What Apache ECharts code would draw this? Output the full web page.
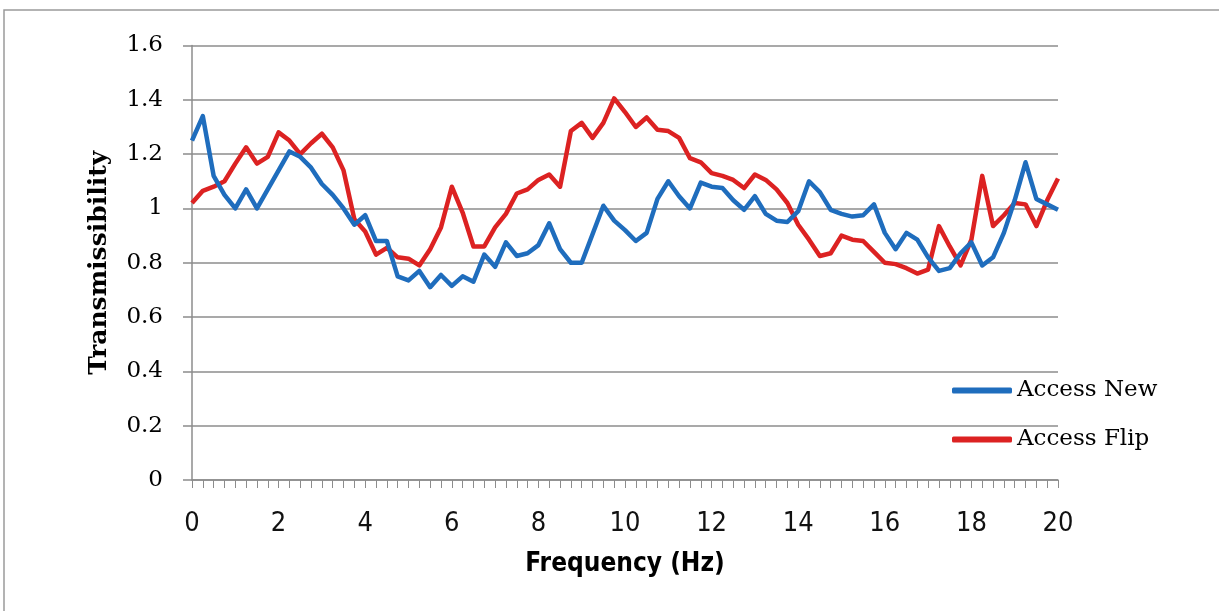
<!DOCTYPE html>
<html>
<head>
<meta charset="utf-8">
<title>Transmissibility</title>
<script src="https://cdn.jsdelivr.net/npm/echarts@6/dist/echarts.min.js"></script>
<style>
  html, body { margin: 0; padding: 0; background: #ffffff; }
  #chart { width: 1219px; height: 611px; }
</style>
</head>
<body>
<div id="chart"></div>
<script>
// Frequency bins (Hz), 0.25 Hz steps
const frequencies = [
  0, 0.25, 0.5, 0.75, 1, 1.25, 1.5, 1.75, 2, 2.25, 2.5, 2.75, 3, 3.25, 3.5, 3.75,
  4, 4.25, 4.5, 4.75, 5, 5.25, 5.5, 5.75, 6, 6.25, 6.5, 6.75, 7, 7.25, 7.5, 7.75,
  8, 8.25, 8.5, 8.75, 9, 9.25, 9.5, 9.75, 10, 10.25, 10.5, 10.75, 11, 11.25, 11.5, 11.75,
  12, 12.25, 12.5, 12.75, 13, 13.25, 13.5, 13.75, 14, 14.25, 14.5, 14.75, 15, 15.25, 15.5, 15.75,
  16, 16.25, 16.5, 16.75, 17, 17.25, 17.5, 17.75, 18, 18.25, 18.5, 18.75, 19, 19.25, 19.5, 19.75, 20
];

// Transmissibility, "Access New" seat
const accessNew = [
  1.25, 1.34, 1.12, 1.05, 1.00, 1.07, 1.00, 1.07, 1.14, 1.21, 1.19, 1.15, 1.09, 1.05, 1.00, 0.94,
  0.975, 0.88, 0.88, 0.75, 0.735, 0.77, 0.71, 0.755, 0.715, 0.75, 0.73, 0.83, 0.785, 0.875, 0.825, 0.835,
  0.865, 0.945, 0.85, 0.80, 0.80, 0.905, 1.01, 0.955, 0.92, 0.88, 0.91, 1.035, 1.10, 1.045, 1.00, 1.095,
  1.08, 1.075, 1.03, 0.995, 1.045, 0.98, 0.955, 0.95, 0.99, 1.10, 1.06, 0.995, 0.98, 0.97, 0.975, 1.015,
  0.91, 0.85, 0.91, 0.885, 0.82, 0.77, 0.78, 0.835, 0.875, 0.79, 0.82, 0.91, 1.03, 1.17, 1.035, 1.015, 0.995
];

// Transmissibility, "Access Flip" seat
const accessFlip = [
  1.02, 1.065, 1.08, 1.10, 1.165, 1.225, 1.165, 1.19, 1.28, 1.25, 1.20, 1.24, 1.275, 1.225, 1.14, 0.96,
  0.915, 0.83, 0.855, 0.82, 0.815, 0.79, 0.85, 0.93, 1.08, 0.985, 0.86, 0.86, 0.93, 0.98, 1.055, 1.07,
  1.105, 1.125, 1.08, 1.285, 1.315, 1.26, 1.315, 1.405, 1.355, 1.30, 1.335, 1.29, 1.285, 1.26, 1.185, 1.17,
  1.13, 1.12, 1.105, 1.075, 1.125, 1.105, 1.07, 1.02, 0.94, 0.885, 0.825, 0.835, 0.90, 0.885, 0.88, 0.84,
  0.80, 0.795, 0.78, 0.76, 0.775, 0.935, 0.86, 0.79, 0.885, 1.12, 0.935, 0.975, 1.02, 1.015, 0.935, 1.03, 1.11
];

const seriesNames = ['Access New', 'Access Flip'];
const seriesColors = ['#1f6dbd', '#dc2222'];

// Value axis range and step
const yMin = 0, yMax = 1.6, yStep = 0.2;

const chart = echarts.init(document.getElementById('chart'), null, { renderer: 'canvas' });

const serif = '"DejaVu Serif", "Liberation Serif", serif';
const narrow = '"DejaVu Sans Condensed", "Liberation Sans", sans-serif';

chart.setOption({
  animation: false,
  backgroundColor: '#ffffff',
  grid: { left: 192, right: 161, top: 45.5, bottom: 131, containLabel: false },
  graphic: [
    {
      type: 'rect',
      shape: { x: 4, y: 10, width: 1260, height: 700 },
      style: { fill: 'none', stroke: '#9a9a9a', lineWidth: 1.5 },
      silent: true, z: -1
    }
  ],
  legend: {
    orient: 'vertical',
    left: 952,
    top: 378,
    padding: 0,
    itemWidth: 60,
    itemHeight: 6,
    itemGap: 24,
    icon: 'roundRect',
    data: seriesNames,
    textStyle: { fontFamily: serif, fontSize: 23, color: '#000000', lineHeight: 25 }
  },
  xAxis: {
    type: 'category',
    data: frequencies,
    boundaryGap: false,
    name: 'Frequency (Hz)',
    nameLocation: 'middle',
    nameGap: 71,
    nameTextStyle: { fontFamily: narrow, fontWeight: 'bold', fontSize: 26, color: '#000000' },
    axisLine: { show: true, lineStyle: { color: '#8c8c8c', width: 1.5 } },
    axisTick: { show: true, interval: 0, length: 8, lineStyle: { color: '#8c8c8c', width: 1 } },
    axisLabel: {
      interval: 7,
      margin: 30,
      fontFamily: narrow,
      fontSize: 27,
      color: '#111111',
      formatter: v => String(v)
    },
    splitLine: { show: false }
  },
  yAxis: {
    type: 'value',
    min: yMin,
    max: yMax,
    interval: yStep,
    name: 'Transmissibility',
    nameLocation: 'middle',
    nameRotate: 90,
    nameGap: 80,
    nameTextStyle: { fontFamily: serif, fontWeight: 'bold', fontSize: 25, color: '#000000' },
    axisLine: { show: true, lineStyle: { color: '#8c8c8c', width: 1.5 } },
    axisTick: { show: true, inside: false, length: 9, lineStyle: { color: '#8c8c8c', width: 1.5 } },
    axisLabel: {
      margin: 29,
      fontFamily: serif,
      fontSize: 23,
      color: '#000000',
      formatter: v => String(Math.round(v * 10) / 10)
    },
    splitLine: { show: true, lineStyle: { color: '#8c8c8c', width: 1.5 } }
  },
  series: [
    {
      name: seriesNames[0],
      type: 'line',
      data: accessNew,
      symbol: 'none',
      color: seriesColors[0],
      lineStyle: { width: 4.5, color: seriesColors[0], join: 'round' },
      z: 3
    },
    {
      name: seriesNames[1],
      type: 'line',
      data: accessFlip,
      symbol: 'none',
      color: seriesColors[1],
      lineStyle: { width: 4.5, color: seriesColors[1], join: 'round' },
      z: 2
    }
  ]
});
</script>
</body>
</html>
